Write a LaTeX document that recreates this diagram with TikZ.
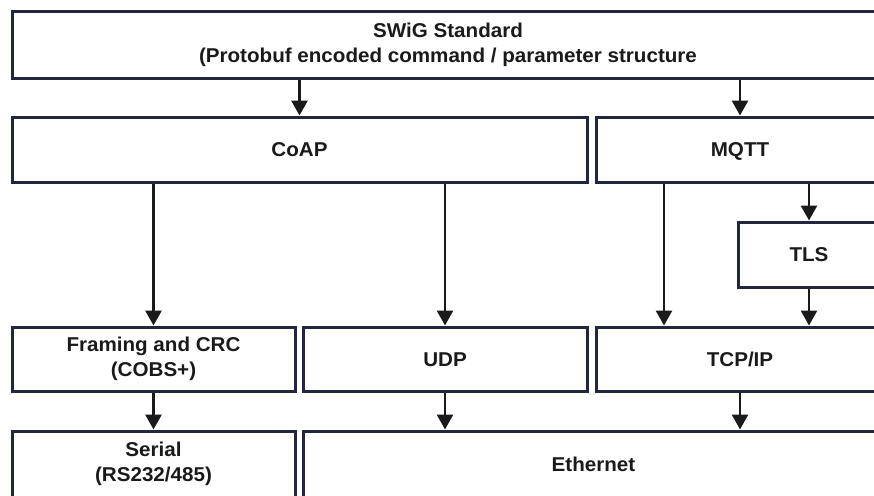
\documentclass[tikz,border=0pt]{standalone}
\usepackage{fontspec}
\setmainfont{Liberation Sans}[FakeStretch=1.03]
\usetikzlibrary{arrows.meta}
\definecolor{boxline}{HTML}{22263F}
\definecolor{ink}{HTML}{1A1A1A}
\tikzset{
  layer/.style={draw=boxline, line width=3pt, fill=white, rectangle, inner sep=0pt,
    align=center, text=ink, font=\fontsize{20pt}{25pt}\selectfont\bfseries},
  oneline/.style={text height=14.3pt, text depth=0pt},
  arr/.style={draw=ink, line width=2.8pt, -{Triangle[length=15pt,width=16pt]}}
}
\begin{document}
\begin{tikzpicture}[x=1pt,y=-1pt]
\useasboundingbox (0,0) rectangle (874,495);
\fill[white] (0,0) rectangle (874,495);
\clip (0,0) rectangle (874,495);
% boxes: centre, width, height
\node[layer, minimum width=872pt, minimum height=66pt] (swig) at (448,45)
  {SWiG Standard\\(Protobuf encoded command / parameter structure};
\node[layer, oneline, minimum width=575pt, minimum height=65pt] (coap) at (299.5,149.5) {CoAP};
\node[layer, oneline, minimum width=288pt, minimum height=65pt] (mqtt) at (740,149.5) {MQTT};
\node[layer, oneline, minimum width=142pt, minimum height=65pt] (tls) at (809,254.5) {TLS};
\node[layer, minimum width=283pt, minimum height=64pt] (fr) at (153.5,359) {Framing and CRC\\(COBS+)};
\node[layer, oneline, minimum width=284pt, minimum height=64pt] (udp) at (445,359) {UDP};
\node[layer, oneline, minimum width=288pt, minimum height=64pt] (tcp) at (740,359) {TCP/IP};
\node[layer, minimum width=283pt, minimum height=66pt] (ser) at (153.5,464) {Serial\\(RS232/485)};
\node[layer, oneline, minimum width=581pt, minimum height=66pt] (eth) at (593.5,464) {Ethernet};
% connectors
\draw[arr] (swig.south -| coap.north) -- (coap.north);
\draw[arr] (swig.south -| mqtt.north) -- (mqtt.north);
\draw[arr] (coap.south -| fr.north) -- (fr.north);
\draw[arr] (coap.south -| udp.north) -- (udp.north);
\draw[arr] ([xshift=-76pt]mqtt.south) -- ([xshift=-76pt]tcp.north);
\draw[arr] (mqtt.south -| tls.north) -- (tls.north);
\draw[arr] (tls.south) -- (tls.south |- tcp.north);
\draw[arr] (fr.south) -- (ser.north);
\draw[arr] (udp.south) -- (udp.south |- eth.north);
\draw[arr] (tcp.south) -- (tcp.south |- eth.north);
\end{tikzpicture}
\end{document}
